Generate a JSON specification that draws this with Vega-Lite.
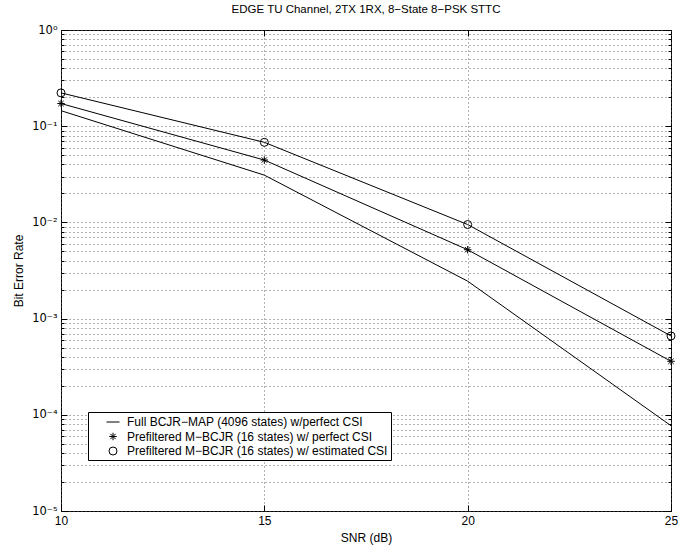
{
  "$schema": "https://vega.github.io/schema/vega-lite/v6.json",
  "width": 610,
  "height": 481,
  "autosize": {"type": "none"},
  "padding": {"left": 61, "top": 30, "right": 7, "bottom": 39},
  "title": {"text": "EDGE TU Channel, 2TX 1RX, 8−State 8−PSK STTC", "fontSize": 11.5, "fontWeight": "normal", "font": "Liberation Sans", "color": "black", "offset": 9, "anchor": "middle"},
  "data": {"values": [
    {"series": "Full BCJR−MAP (4096 states) w/perfect CSI", "snr": 10, "ber": 0.145},
    {"series": "Full BCJR−MAP (4096 states) w/perfect CSI", "snr": 15, "ber": 0.031},
    {"series": "Full BCJR−MAP (4096 states) w/perfect CSI", "snr": 20, "ber": 0.00245},
    {"series": "Full BCJR−MAP (4096 states) w/perfect CSI", "snr": 25, "ber": 0.000077},
    {"series": "Prefiltered M−BCJR (16 states) w/ perfect CSI", "snr": 10, "ber": 0.172},
    {"series": "Prefiltered M−BCJR (16 states) w/ perfect CSI", "snr": 15, "ber": 0.0445},
    {"series": "Prefiltered M−BCJR (16 states) w/ perfect CSI", "snr": 20, "ber": 0.0052},
    {"series": "Prefiltered M−BCJR (16 states) w/ perfect CSI", "snr": 25, "ber": 0.00036},
    {"series": "Prefiltered M−BCJR (16 states) w/ estimated CSI", "snr": 10, "ber": 0.222},
    {"series": "Prefiltered M−BCJR (16 states) w/ estimated CSI", "snr": 15, "ber": 0.068},
    {"series": "Prefiltered M−BCJR (16 states) w/ estimated CSI", "snr": 20, "ber": 0.0095},
    {"series": "Prefiltered M−BCJR (16 states) w/ estimated CSI", "snr": 25, "ber": 0.00066}
  ]},
  "layer": [
    {
      "mark": {"type": "line", "color": "black", "strokeWidth": 1},
      "encoding": {
        "x": {"field": "snr", "type": "quantitative", "scale": {"domain": [10, 25], "nice": false, "zero": false},
              "axis": {"orient": "bottom", "values": [10, 15, 20, 25], "title": "SNR (dB)", "grid": true, "tickSize": -6, "labelPadding": 10, "titlePadding": 6, "labelFlush": false}},
        "y": {"field": "ber", "type": "quantitative", "scale": {"type": "log", "domain": [0.00001, 1], "nice": false},
              "axis": {"orient": "left", "values": [0.00001, 0.0001, 0.001, 0.01, 0.1, 1], "labelExpr": "['10⁻⁵','10⁻⁴','10⁻³','10⁻²','10⁻¹','10⁰'][round(log(datum.value)/LN10)+5]", "labelFont": "DejaVu Sans", "labelFontSize": 11.5, "tickSize": -6, "labelPadding": 10, "grid": false, "title": "Bit Error Rate", "titlePadding": 6}},
        "detail": {"field": "series"}
      }
    },
    {
      "transform": [{"filter": "datum.series != 'Full BCJR−MAP (4096 states) w/perfect CSI'"}],
      "mark": {"type": "point", "filled": false, "color": "black", "strokeWidth": 1, "opacity": 1},
      "encoding": {
        "x": {"field": "snr", "type": "quantitative", "axis": null},
        "y": {"field": "ber", "type": "quantitative",
              "axis": {"orient": "left", "values": [0.00001,0.00002,0.00003,0.00004,0.00005,0.00006,0.00007,0.00008,0.00009,0.0001,0.0002,0.0003,0.0004,0.0005,0.0006,0.0007,0.0008,0.0009,0.001,0.002,0.003,0.004,0.005,0.006,0.007,0.008,0.009,0.01,0.02,0.03,0.04,0.05,0.06,0.07,0.08,0.09,0.1,0.2,0.3,0.4,0.5,0.6,0.7,0.8,0.9,1], "labels": false, "tickSize": -3, "grid": true, "title": null}},
        "shape": {"field": "series", "type": "nominal",
                  "scale": {"domain": ["Full BCJR−MAP (4096 states) w/perfect CSI", "Prefiltered M−BCJR (16 states) w/ perfect CSI", "Prefiltered M−BCJR (16 states) w/ estimated CSI"],
                            "range": ["stroke", "M-1,0L1,0M0,-1L0,1M-0.71,-0.71L0.71,0.71M-0.71,0.71L0.71,-0.71", "circle"]},
                  "legend": {"title": null, "orient": "none", "legendX": 27, "legendY": 382, "strokeColor": "black", "fillColor": "white", "padding": 3, "symbolOffset": 15, "labelOffset": 7, "rowPadding": 2.5, "labelFont": "Liberation Sans", "labelFontSize": 12, "labelColor": "black", "symbolStrokeColor": "black", "symbolStrokeWidth": 1, "symbolFillColor": "transparent", "labelLimit": 400}},
        "size": {"field": "series", "type": "nominal",
                 "scale": {"type": "ordinal", "domain": ["Full BCJR−MAP (4096 states) w/perfect CSI", "Prefiltered M−BCJR (16 states) w/ perfect CSI", "Prefiltered M−BCJR (16 states) w/ estimated CSI"],
                           "range": [169, 56, 64]},
                 "legend": {"title": null, "orient": "none", "legendX": 27, "legendY": 382, "strokeColor": "black", "fillColor": "white", "padding": 3, "symbolOffset": 15, "labelOffset": 7, "rowPadding": 2.5, "labelFont": "Liberation Sans", "labelFontSize": 12, "labelColor": "black", "symbolStrokeColor": "black", "symbolStrokeWidth": 1, "symbolFillColor": "transparent", "labelLimit": 400}}
      }
    },
    {
      "mark": {"type": "point", "opacity": 0},
      "encoding": {
        "x": {"field": "snr", "type": "quantitative", "axis": {"orient": "top", "values": [15, 20], "labels": false, "tickSize": -6, "grid": false, "title": null}},
        "y": {"field": "ber", "type": "quantitative",
              "axis": {"orient": "right", "values": [0.00001,0.00002,0.00003,0.00004,0.00005,0.00006,0.00007,0.00008,0.00009,0.0001,0.0002,0.0003,0.0004,0.0005,0.0006,0.0007,0.0008,0.0009,0.001,0.002,0.003,0.004,0.005,0.006,0.007,0.008,0.009,0.01,0.02,0.03,0.04,0.05,0.06,0.07,0.08,0.09,0.1,0.2,0.3,0.4,0.5,0.6,0.7,0.8,0.9,1], "labels": false, "tickSize": -3, "grid": false, "title": null}}
      }
    },
    {
      "mark": {"type": "point", "opacity": 0},
      "encoding": {
        "x": {"field": "snr", "type": "quantitative", "axis": null},
        "y": {"field": "ber", "type": "quantitative",
              "axis": {"orient": "right", "values": [0.00001, 0.0001, 0.001, 0.01, 0.1, 1], "labels": false, "tickSize": -6, "grid": false, "title": null}}
      }
    }
  ],
  "resolve": {"axis": {"x": "independent", "y": "independent"}},
  "config": {
    "view": {"stroke": "black", "strokeWidth": 1},
    "axis": {"domain": false, "tickColor": "black", "tickWidth": 1, "labelColor": "black", "titleColor": "black", "labelFont": "Liberation Sans", "titleFont": "Liberation Sans", "labelFontSize": 12, "titleFontSize": 12, "titleFontWeight": "normal", "gridColor": "#555555", "gridDash": [1, 3], "gridWidth": 1, "gridOpacity": 0.9}
  }
}
